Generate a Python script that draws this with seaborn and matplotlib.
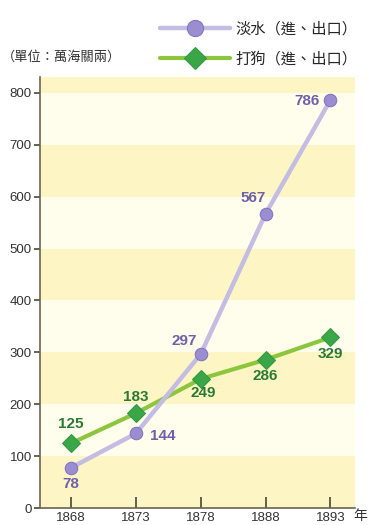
import matplotlib.pyplot as plt
import seaborn as sns
import pandas as pd

years = ['1868', '1873', '1878', '1888', '1893']
tamsui = [78, 144, 297, 567, 786]
takao = [125, 183, 249, 286, 329]
tamsui_name = '淡水（進、出口）'
takao_name = '打狗（進、出口）'

sns.set_style('white')
plt.rcParams['font.family'] = ['Liberation Sans', 'Noto Sans CJK TC', 'DejaVu Sans']

df = pd.DataFrame({'x': range(len(years)), 'tamsui': tamsui, 'takao': takao})

fig = plt.figure(figsize=(3.71, 5.25), dpi=100)
ax = fig.add_axes([0.108, 0.032, 0.849, 0.821])

# alternating background bands
for i, lo in enumerate(range(0, 900, 100)):
    ax.axhspan(lo, lo + 100, color='#fdf6c4' if i % 2 == 0 else '#fffdeb', zorder=0, lw=0)

sns.lineplot(data=df, x='x', y='takao', ax=ax, color='#8cc63f', lw=3,
             marker='D', markersize=9, markerfacecolor='#3aa648',
             markeredgecolor='#2e9a3e', label=takao_name, zorder=3)
sns.lineplot(data=df, x='x', y='tamsui', ax=ax, color='#c3bce3', lw=3.2,
             marker='o', markersize=9, markerfacecolor='#9a8ed0',
             markeredgecolor='#8074bf', label=tamsui_name, zorder=4)

purple = '#6e60aa'
green = '#2a7a36'
p_off = [(0, -12), (19, -2), (-12, 9), (-9, 11), (-17, -1)]
g_off = [(0, 14), (0, 12), (2, -10), (0, -11.5), (0, -12)]
for i in range(len(years)):
    ax.annotate(str(tamsui[i]), (i, tamsui[i]), xytext=p_off[i], textcoords='offset points',
                ha='center', va='center', color=purple, fontsize=11, fontweight='bold')
    ax.annotate(str(takao[i]), (i, takao[i]), xytext=g_off[i], textcoords='offset points',
                ha='center', va='center', color=green, fontsize=11, fontweight='bold')

ax.set_xlim(-0.48, 4.38)
ax.set_ylim(0, 830)
ax.set_xticks(range(len(years)))
ax.set_xticklabels(years)
ax.set_yticks(range(0, 900, 100))
ax.set_xlabel('')
ax.set_ylabel('')
for s in ['top', 'right']:
    ax.spines[s].set_visible(False)
for s in ['left', 'bottom']:
    ax.spines[s].set_color('#6b6450')
    ax.spines[s].set_linewidth(1.2)
ax.tick_params(axis='x', direction='in', length=8, width=1.2, color='#4a4536',
               labelsize=9.5, labelcolor='#333333', pad=3)
ax.tick_params(axis='y', direction='out', length=4, width=1.2, color='#4a4536',
               labelsize=9.5, labelcolor='#333333', pad=2)
ax.tick_params(left=True, bottom=True)

fig.text(0.99, 0.030, '年', ha='right', va='top', fontsize=10, color='#333333')
fig.text(0.005, 0.89, '（單位：萬海關兩）', ha='left', va='center', fontsize=9.5, color='#333333')

h, l = ax.get_legend_handles_labels()
ax.legend(h[::-1], l[::-1], loc='lower right', bbox_to_anchor=(1.04, 1.0), frameon=False,
          fontsize=11, handlelength=4.6, handletextpad=0.3, labelspacing=1.0,
          borderaxespad=0.3, markerscale=1.3)

fig.savefig('out.png', dpi=100)
